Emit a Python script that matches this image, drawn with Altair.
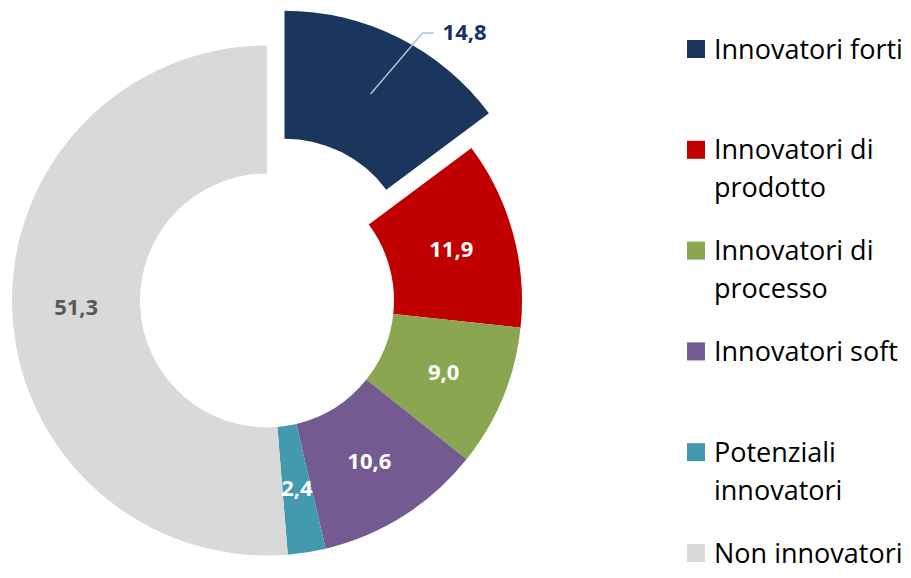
import math
import altair as alt
import pandas as pd

categories = ["Innovatori forti", "Innovatori di prodotto", "Innovatori di processo",
              "Innovatori soft", "Potenziali innovatori", "Non innovatori"]
values = [14.8, 11.9, 9.0, 10.6, 2.4, 51.3]
value_labels = ["14,8", "11,9", "9,0", "10,6", "2,4", "51,3"]
legend_labels = ["Innovatori forti", "Innovatori di\nprodotto", "Innovatori di\nprocesso",
                 "Innovatori soft", "Potenziali\ninnovatori", "Non innovatori"]
colors = ["#1A365D", "#C00000", "#8BA650", "#735A90", "#4399B0", "#D9D9D9"]
label_colors = ["#17306A", "#FFFFFF", "#FFFFFF", "#FFFFFF", "#FFFFFF", "#595959"]
exploded = [1, 0, 0, 0, 0, 0]

df = pd.DataFrame({
    "order": list(range(len(categories))),
    "category": categories,
    "value": values,
    "label": value_labels,
    "legend": legend_labels,
    "lcolor": label_colors,
    "exploded": exploded,
})

CX, CY = 259, 292.5       # donut centre (plot coords)
EXPLODE = 39              # explosion distance in px
R_IN, R_OUT, R_LAB = 127, 255, 191
FONT = "Open Sans"

theta_scale = alt.Scale(domain=[0, 100], range=[0, 2 * math.pi])

base = alt.Chart(df).transform_window(
    cum="sum(value)", sort=[alt.SortField("order")], frame=[None, 0]
).transform_calculate(
    start="datum.cum - datum.value",
    mid="datum.cum - datum.value / 2",
).transform_calculate(
    ang="datum.mid * 2 * PI / 100",
).transform_calculate(
    cx=f"{CX} + datum.exploded * {EXPLODE} * sin(datum.ang)",
    cy=f"{CY} - datum.exploded * {EXPLODE} * cos(datum.ang)",
)

arcs = base.mark_arc(innerRadius=R_IN, outerRadius=R_OUT).encode(
    theta=alt.Theta("start:Q", scale=theta_scale),
    theta2="cum:Q",
    color=alt.Color("category:N", scale=alt.Scale(domain=categories, range=colors), legend=None),
    x=alt.X("cx:Q", scale=None),
    y=alt.Y("cy:Q", scale=None),
)

inner_labels = base.transform_filter("datum.exploded == 0").mark_text(
    radius=R_LAB, font=FONT, fontSize=22, fontWeight="bold", align="center", baseline="middle"
).encode(
    theta=alt.Theta("mid:Q", scale=theta_scale),
    text="label:N",
    color=alt.Color("lcolor:N", scale=None),
    x=alt.X("cx:Q", scale=None),
    y=alt.Y("cy:Q", scale=None),
)

lead = base.transform_filter("datum.exploded == 1").transform_calculate(
    p1x="datum.cx + 192 * sin(datum.ang)",
    p1y="datum.cy - 192 * cos(datum.ang)",
).transform_calculate(
    p2x="datum.p1x + 52",
    p2y="datum.p1y - 61",
).transform_calculate(
    p3x="datum.p2x + 11",
    tx="datum.p2x + 20",
)

lead1 = lead.mark_rule(color="#A9C1DD", strokeWidth=1.5).encode(
    x=alt.X("p1x:Q", scale=None), y=alt.Y("p1y:Q", scale=None),
    x2="p2x:Q", y2="p2y:Q",
)
lead2 = lead.mark_rule(color="#A9C1DD", strokeWidth=1.5).encode(
    x=alt.X("p2x:Q", scale=None), y=alt.Y("p2y:Q", scale=None),
    x2="p3x:Q", y2="p2y:Q",
)
out_label = lead.mark_text(
    font=FONT, fontSize=22, fontWeight="bold", align="left", baseline="middle"
).encode(
    x=alt.X("tx:Q", scale=None), y=alt.Y("p2y:Q", scale=None),
    text="label:N",
    color=alt.Color("lcolor:N", scale=None),
)

leg_y = alt.Y("category:N", scale=alt.Scale(type="point", domain=categories, range=[41, 545], padding=0), axis=None)

leg_sq = alt.Chart(df).mark_square(size=324, opacity=1).encode(
    x=alt.value(688),
    y=leg_y,
    color=alt.Color("category:N", scale=alt.Scale(domain=categories, range=colors), legend=None),
)
leg_txt = alt.Chart(df).mark_text(
    font=FONT, fontSize=27, align="left", baseline="alphabetic", dy=9.5,
    lineBreak="\n", lineHeight=38, color="#000000"
).encode(
    x=alt.value(706),
    y=leg_y,
    text="legend:N",
)

chart = alt.layer(arcs, inner_labels, lead1, lead2, out_label, leg_sq, leg_txt).properties(
    width=895, height=562, padding=0, autosize="none", background="white"
).configure_view(stroke=None)

chart.save("out.html", embed_options={"renderer": "svg", "actions": False})
